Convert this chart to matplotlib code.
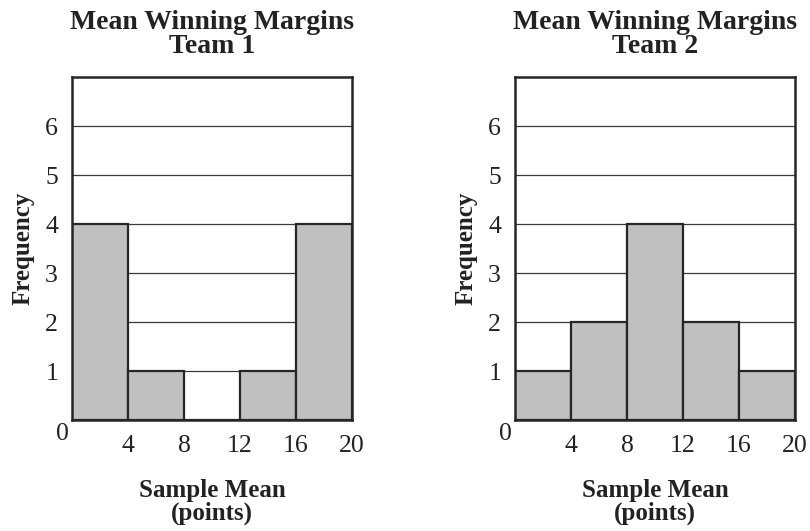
import numpy as np
import matplotlib
matplotlib.use("Agg")
import matplotlib.pyplot as plt
from matplotlib.transforms import offset_copy

# histogram data
bin_edges = [0, 4, 8, 12, 16, 20]
team1_counts = [4, 1, 0, 1, 4]
team2_counts = [1, 2, 4, 2, 1]
titles = ["Mean Winning Margins\nTeam 1", "Mean Winning Margins\nTeam 2"]
y_ticks = [1, 2, 3, 4, 5, 6]

plt.rcParams["font.family"] = ["Liberation Serif", "DejaVu Serif"]

fig = plt.figure(figsize=(8.1, 5.31), dpi=100)
W, H = 810, 531
boxes = [(72, 77, 352, 420), (515, 77, 795, 420)]

for (x0, y0, x1, y1), counts, title in zip(boxes, [team1_counts, team2_counts], titles):
    ax = fig.add_axes([x0 / W, 1 - y1 / H, (x1 - x0) / W, (y1 - y0) / H])
    edges = np.array(bin_edges)
    ax.bar(edges[:-1], counts, width=np.diff(edges), align="edge",
           color="#c0c0c0", edgecolor="#262626", linewidth=1.6, zorder=3)
    for y in y_ticks:
        ax.axhline(y, color="#3a3a3a", linewidth=0.9, zorder=1)
    ax.set_xlim(0, 20)
    ax.set_ylim(0, 7)
    ax.set_xticks(bin_edges[1:])
    ax.set_yticks(y_ticks)
    ax.tick_params(axis="both", length=0, labelsize=18.5, colors="#222222")
    ax.tick_params(axis="x", pad=11)
    ax.tick_params(axis="y", pad=10)
    for s in ax.spines.values():
        s.set_linewidth(1.8)
        s.set_color("#262626")
        s.set_zorder(4)
    ax.text(0, 0, "0", transform=offset_copy(ax.transData, fig=fig, x=-10, y=-14, units="dots"),
            ha="center", va="center", fontsize=18.5, color="#222222")
    ax.set_title(title, fontsize=20, fontweight="bold", pad=17.5, linespacing=0.95, color="#222222")
    ax.set_xlabel("Sample Mean\n(points)", fontsize=18, fontweight="bold", labelpad=16,
                  linespacing=0.95, color="#222222")
    ax.set_ylabel("Frequency", fontsize=18, fontweight="bold", labelpad=7.5, color="#222222")

fig.savefig("out.png", dpi=100)
